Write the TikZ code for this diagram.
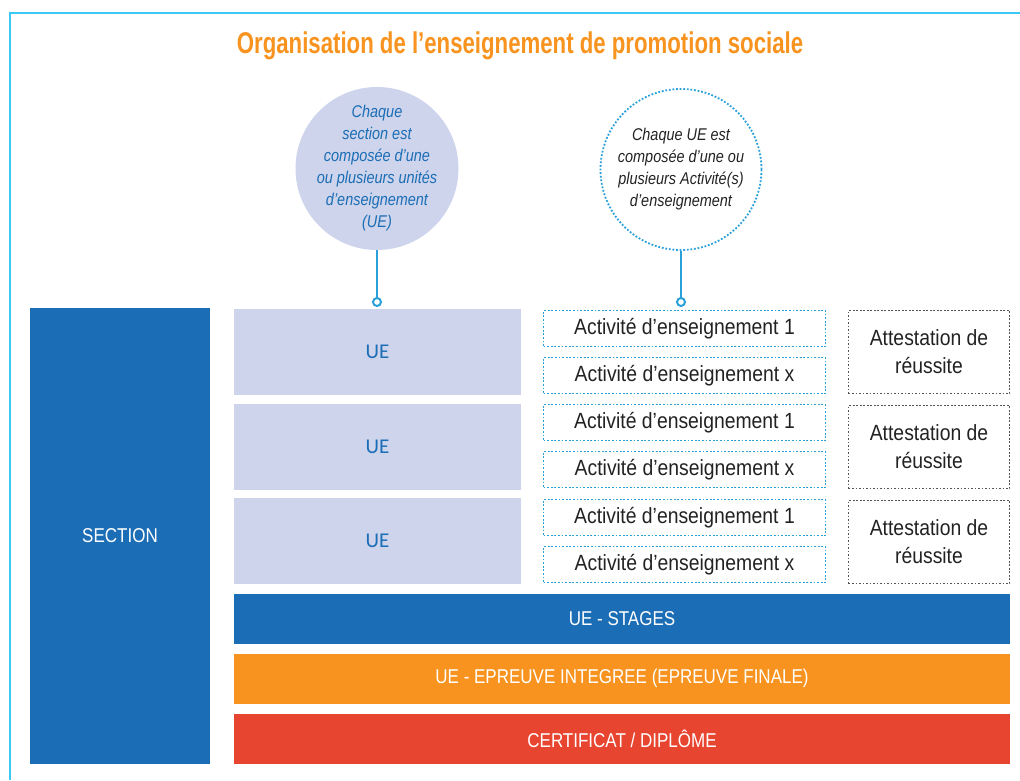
\documentclass[tikz,border=0pt]{standalone}
\usepackage{fontspec}
\setmainfont{Liberation Sans}[FakeStretch=0.85]
\newfontfamily\boxfont{Liberation Sans}[FakeStretch=0.88]
\newfontfamily\titlefont{Liberation Sans}[FakeStretch=0.74]
\newfontfamily\uefont{Carlito}
\definecolor{secblue}{HTML}{1B6DB5}
\definecolor{lav}{HTML}{CDD4EC}
\definecolor{dotblue}{HTML}{2AA0D8}
\definecolor{orng}{HTML}{F7931E}
\definecolor{redc}{HTML}{E84531}
\definecolor{framec}{HTML}{3CC8F5}
\definecolor{grayd}{HTML}{555555}
\definecolor{darktext}{HTML}{222222}
\tikzset{
  secbox/.style={rectangle, fill=secblue, text=white, inner sep=0pt, font=\fontsize{20}{24}\selectfont},
  uebox/.style={rectangle, fill=lav, text=secblue, inner sep=0pt, minimum width=287pt, minimum height=86pt, font=\uefont\fontsize{21}{24}\selectfont},
  actbox/.style={rectangle, draw=dotblue, line width=1.8pt, dash pattern=on 1.8pt off 1.8pt, text=darktext, inner sep=0pt, minimum width=282pt, minimum height=36pt, font=\boxfont\fontsize{22}{24}\selectfont},
  attbox/.style={rectangle, draw=grayd, line width=1.7pt, dash pattern=on 1.7pt off 1.8pt, text=darktext, inner sep=0pt, minimum width=161pt, minimum height=83pt, align=center, font=\boxfont\fontsize{22}{28}\selectfont},
  barbox/.style={rectangle, text=white, inner sep=0pt, minimum width=776pt, minimum height=50pt, font=\fontsize{20}{24}\selectfont},
  ring/.style={circle, draw=dotblue, fill=white, line width=2pt, minimum size=8pt, inner sep=0pt},
  link/.style={draw=dotblue, line width=2pt},
}
\begin{document}
\begin{tikzpicture}[x=1pt,y=-1pt]
\useasboundingbox (0,0) rectangle (1020,780);
% frame
\draw[framec, line width=2pt] (10,780) -- (10,13) -- (1020,13);
% title
\node[text=orng, font=\titlefont\bfseries\fontsize{30}{32}\selectfont] (title) at (520,46) {Organisation de l’enseignement de promotion sociale};
% circles
\node[circle, fill=lav, minimum size=163pt, inner sep=-15pt, align=center, text=secblue, font=\itshape\fontsize{17}{22}\selectfont] (c1) at (377,168.5) {Chaque\\section est\\composée d’une\\ou plusieurs unités\\d’enseignement\\(UE)};
\node[circle, draw=dotblue, line width=1.8pt, dash pattern=on 1.8pt off 1.8pt, minimum size=161pt, inner sep=-15pt, align=center, text=darktext, font=\itshape\fontsize{17}{22}\selectfont] (c2) at (681,169.5) {Chaque UE est\\composée d’une ou\\plusieurs Activité(s)\\d’enseignement};
% section
\node[secbox, minimum width=180pt, minimum height=456pt] (sec) at (120,536) {SECTION};
% UE boxes
\node[uebox] (ue1) at (377.5,352) {UE};
\node[uebox] (ue2) at (377.5,447) {UE};
\node[uebox] (ue3) at (377.5,541) {UE};
% activities
\node[actbox] (a1) at (684.5,328.5) {Activité d’enseignement 1};
\node[actbox] (a2) at (684.5,375.5) {Activité d’enseignement x};
\node[actbox] (a3) at (684.5,422.5) {Activité d’enseignement 1};
\node[actbox] (a4) at (684.5,469.5) {Activité d’enseignement x};
\node[actbox] (a5) at (684.5,517.5) {Activité d’enseignement 1};
\node[actbox] (a6) at (684.5,564.5) {Activité d’enseignement x};
% attestations
\node[attbox] (t1) at (929,352) {Attestation de\\réussite};
\node[attbox] (t2) at (929,447) {Attestation de\\réussite};
\node[attbox] (t3) at (929,542) {Attestation de\\réussite};
% bars
\node[barbox, fill=secblue] (stages) at (622,619) {UE - STAGES};
\node[barbox, fill=orng] (epreuve) at (622,678.5) {UE - EPREUVE INTEGREE (EPREUVE FINALE)};
\node[barbox, fill=redc] (cert) at (622,738.5) {CERTIFICAT / DIPLÔME};
% connectors
\node[ring] (r1) at (377,302) {};
\node[ring] (r2) at (681,302) {};
\draw[link] (c1.south) -- (r1.north);
\draw[link] (c2.south) -- (r2.north);
\end{tikzpicture}
\end{document}
